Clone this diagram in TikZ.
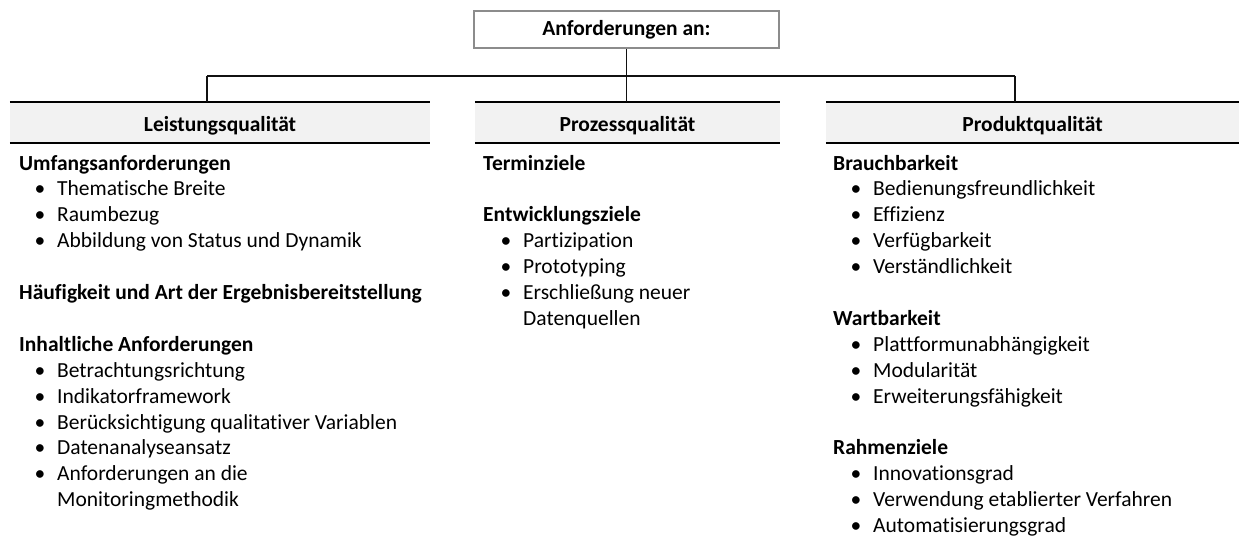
\documentclass[tikz,border=0pt]{standalone}
\usepackage{fontspec}
\setmainfont{Carlito}[Ligatures={NoCommon}]
\definecolor{hdrfill}{HTML}{F2F2F2}
\definecolor{boxline}{HTML}{8C8C8C}
\definecolor{ink}{HTML}{111111}
\begin{document}
\begin{tikzpicture}[x=1pt,y=-1pt,
  font=\fontsize{21.5}{25.9}\selectfont,
  topbox/.style={draw=boxline,line width=1.8pt,fill=white,minimum width=305pt,minimum height=37pt,
    inner sep=0pt,text height=15pt,text depth=4pt,font=\fontsize{21.5}{25.9}\selectfont\bfseries},
  hdr/.style={fill=hdrfill,minimum height=41pt,inner sep=0pt,text height=21pt,text depth=4pt,
    font=\fontsize{21.5}{25.9}\selectfont\bfseries},
  rule/.style={line width=2.3pt,black},
  link/.style={line width=1.8pt,ink},
  head/.style={anchor=base west,inner sep=0pt,font=\fontsize{21.5}{25.9}\selectfont\bfseries},
  item/.style={anchor=base west,inner sep=0pt},
  dot/.style={anchor=base,inner sep=0pt,font=\fontsize{21.5}{25.9}\selectfont}]
\useasboundingbox (0,0) rectangle (1239,541);

% top node
\node[topbox] (top) at (626.5,29.5) {Anforderungen an:};

% column headers
\node[hdr,minimum width=420pt] (h1) at (220,122.5) {Leistungsqualität};
\node[hdr,minimum width=305pt] (h2) at (627.5,122.5) {Prozessqualität};
\node[hdr,minimum width=413pt] (h3) at (1032.5,122.5) {Produktqualität};
\foreach \h in {h1,h2,h3}{
  \draw[rule] (\h.north west) -- (\h.north east);
  \draw[rule] (\h.south west) -- (\h.south east);
}

% connectors
\coordinate (j) at (626.5,76);
\coordinate (ja) at (207,76);
\coordinate (jc) at (1015,76);
\coordinate (da) at (207,102);
\coordinate (db) at (626.5,102);
\coordinate (dc) at (1015,102);
\draw[link] (top.south) -- (j);
\draw[link] (ja) -- (jc);
\draw[link] (ja) -- (da);
\draw[link] (j) -- (db);
\draw[link] (jc) -- (dc);

% left column
\node[head] (a1) at (19,170) {Umfangsanforderungen};
\node[dot] (ab1) at (40,195.9) {•};
\node[item] (a2) at (57,195.9) {Thematische Breite};
\node[dot] (ab2) at (40,221.8) {•};
\node[item] (a3) at (57,221.8) {Raumbezug};
\node[dot] (ab3) at (40,247.7) {•};
\node[item] (a4) at (57,247.7) {Abbildung von Status und Dynamik};
\node[head] (a5) at (19,299.5) {Häufigkeit und Art der Ergebnisbereitstellung};
\node[head] (a6) at (19,351.3) {Inhaltliche Anforderungen};
\node[dot] (ab7) at (40,377.2) {•};
\node[item] (a7) at (57,377.2) {Betrachtungsrichtung};
\node[dot] (ab8) at (40,403.1) {•};
\node[item] (a8) at (57,403.1) {Indikatorframework};
\node[dot] (ab9) at (40,429) {•};
\node[item] (a9) at (57,429) {Berücksichtigung qualitativer Variablen};
\node[dot] (ab10) at (40,454.9) {•};
\node[item] (a10) at (57,454.9) {Datenanalyseansatz};
\node[dot] (ab11) at (40,480.8) {•};
\node[item] (a11) at (57,480.8) {Anforderungen an die};
\node[item] (a12) at (57,506.7) {Monitoringmethodik};

% middle column
\node[head] (b1) at (483,170) {Terminziele};
\node[head] (b2) at (483,221.8) {Entwicklungsziele};
\node[dot] (bb3) at (506,247.7) {•};
\node[item] (b3) at (523,247.7) {Partizipation};
\node[dot] (bb4) at (506,273.6) {•};
\node[item] (b4) at (523,273.6) {Prototyping};
\node[dot] (bb5) at (506,299.5) {•};
\node[item] (b5) at (523,299.5) {Erschließung neuer};
\node[item] (b6) at (523,325.4) {Datenquellen};

% right column
\node[head] (c1) at (833,170) {Brauchbarkeit};
\node[dot] (cb2) at (856,195.9) {•};
\node[item] (c2) at (873,195.9) {Bedienungsfreundlichkeit};
\node[dot] (cb3) at (856,221.8) {•};
\node[item] (c3) at (873,221.8) {Effizienz};
\node[dot] (cb4) at (856,247.7) {•};
\node[item] (c4) at (873,247.7) {Verfügbarkeit};
\node[dot] (cb5) at (856,273.6) {•};
\node[item] (c5) at (873,273.6) {Verständlichkeit};
\node[head] (c6) at (833,325.4) {Wartbarkeit};
\node[dot] (cb7) at (856,351.3) {•};
\node[item] (c7) at (873,351.3) {Plattformunabhängigkeit};
\node[dot] (cb8) at (856,377.2) {•};
\node[item] (c8) at (873,377.2) {Modularität};
\node[dot] (cb9) at (856,403.1) {•};
\node[item] (c9) at (873,403.1) {Erweiterungsfähigkeit};
\node[head] (c10) at (833,454.9) {Rahmenziele};
\node[dot] (cb11) at (856,480.8) {•};
\node[item] (c11) at (873,480.8) {Innovationsgrad};
\node[dot] (cb12) at (856,506.7) {•};
\node[item] (c12) at (873,506.7) {Verwendung etablierter Verfahren};
\node[dot] (cb13) at (856,532.6) {•};
\node[item] (c13) at (873,532.6) {Automatisierungsgrad};
\end{tikzpicture}
\end{document}
